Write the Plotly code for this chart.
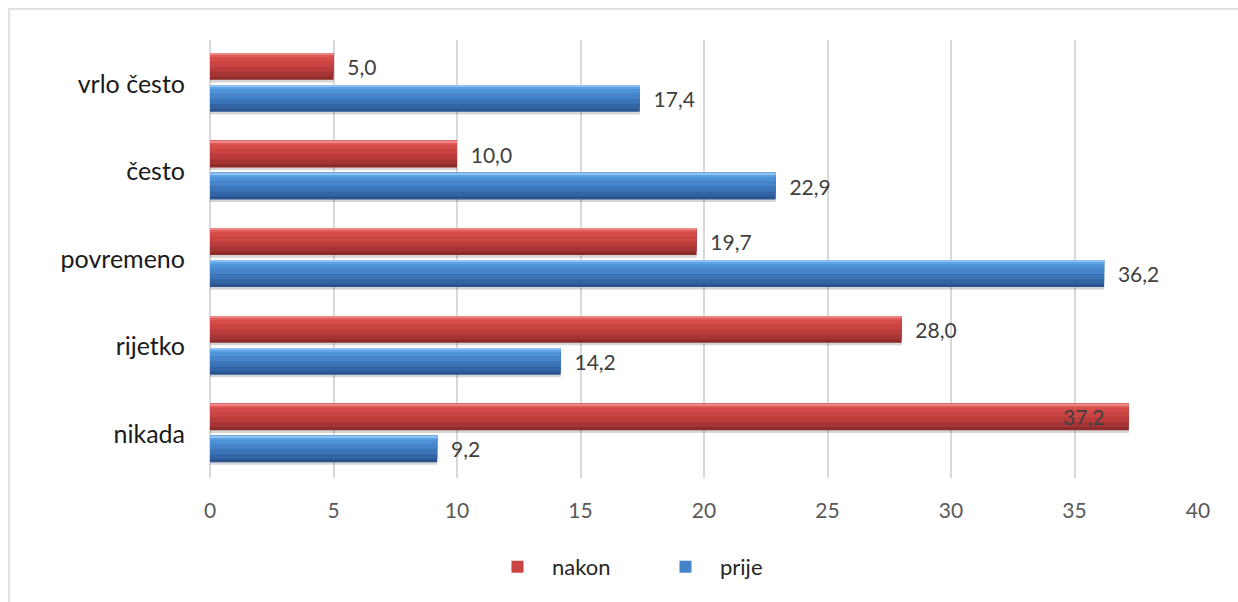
import plotly.graph_objects as go

categories = ["nikada", "rijetko", "povremeno", "često", "vrlo često"]
nakon = [37.2, 28.0, 19.7, 10.0, 5.0]
prije = [9.2, 14.2, 36.2, 22.9, 17.4]
x_ticks = [0, 5, 10, 15, 20, 25, 30, 35, 40]

FONT = "Lato"
BAR_W = 0.305
INSIDE_LABEL_MIN = 37  # labels of longer bars are drawn inside the bar end

series = [
    dict(name="prije", vals=prije, offset=-0.32, rank=2,
         grad=[(0.0, "#2A5590"), (0.12, "#3365A6"), (0.3, "#3C74B8"),
               (0.5, "#4584CA"), (0.7, "#4E92D8"), (0.85, "#5FA3E6"),
               (0.94, "#8DC2F2")]),
    dict(name="nakon", vals=nakon, offset=0.045, rank=1,
         grad=[(0.0, "#8E2B2A"), (0.12, "#A53434"), (0.3, "#B93C3B"),
               (0.5, "#C94443"), (0.7, "#D54B4A"), (0.85, "#E05A58"),
               (0.94, "#EC8584")]),
]

def fmt(v):
    return f"{v:.1f}".replace(".", ",")

fig = go.Figure()
# soft shadows
for s in series:
    fig.add_trace(go.Bar(
        x=s["vals"], y=categories, orientation="h", showlegend=False,
        width=BAR_W, offset=s["offset"] - 0.03,
        marker_color="rgba(0,0,0,0.16)", marker_line_width=0,
        hoverinfo="skip"))

for s in series:
    for i, (f0, c) in enumerate(s["grad"]):
        fig.add_trace(go.Bar(
            x=s["vals"], y=categories, orientation="h",
            name=s["name"], showlegend=(i == 3), legendrank=s["rank"],
            width=BAR_W * (1 - f0), offset=s["offset"] + BAR_W * f0,
            marker_color=c, marker_line_width=0, hoverinfo="skip"))

# labels
for s in series:
    texts, pos = [], []
    for v in s["vals"]:
        if v > INSIDE_LABEL_MIN:
            texts.append(fmt(v) + "\u00a0\u00a0\u00a0\u00a0")
            pos.append("inside")
        else:
            texts.append("\u00a0\u00a0" + fmt(v))
            pos.append("outside")
    fig.add_trace(go.Bar(
        x=s["vals"], y=categories, orientation="h", showlegend=False,
        width=BAR_W, offset=s["offset"], marker_color="rgba(0,0,0,0)",
        marker_line_width=0, text=texts, textposition=pos,
        insidetextanchor="end", textangle=0, cliponaxis=False,
        insidetextfont=dict(family=FONT, size=21, color="#404040"),
        outsidetextfont=dict(family=FONT, size=21, color="#404040"),
        hoverinfo="skip"))

fig.update_layout(
    width=1238, height=602,
    margin=dict(l=210, r=40, t=40, b=124),
    barmode="overlay",
    uniformtext=dict(minsize=21, mode="show"),
    plot_bgcolor="white", paper_bgcolor="white",
    font=dict(family=FONT, color="#404040"),
    showlegend=True,
    legend=dict(orientation="h", x=0.2763, y=-0.203, xanchor="left",
                yanchor="middle", entrywidth=94, entrywidthmode="pixels",
                itemwidth=59,
                font=dict(family=FONT, size=22, color="#262626")),
    xaxis=dict(range=[0, 40], tickvals=x_ticks, showgrid=True,
               gridcolor="#D9D9D9", gridwidth=1.5, zeroline=True,
               zerolinecolor="#D9D9D9", zerolinewidth=1.5, showline=False,
               ticks="", ticklabelstandoff=18,
               tickfont=dict(family=FONT, size=21, color="#595959")),
    yaxis=dict(categoryorder="array", categoryarray=categories,
               range=[-0.5, 4.5], showgrid=False, zeroline=False,
               showline=False, ticks="", ticklabelstandoff=24,
               tickfont=dict(family=FONT, size=25, color="#1A1A1A")),
    shapes=[dict(type="rect", xref="paper", yref="paper",
                 x0=-0.2034, x1=1.3, y0=-0.6, y1=1.0708,
                 line=dict(color="#D9D9D9", width=1.5), layer="below")],
)

fig.write_html("out.html")
